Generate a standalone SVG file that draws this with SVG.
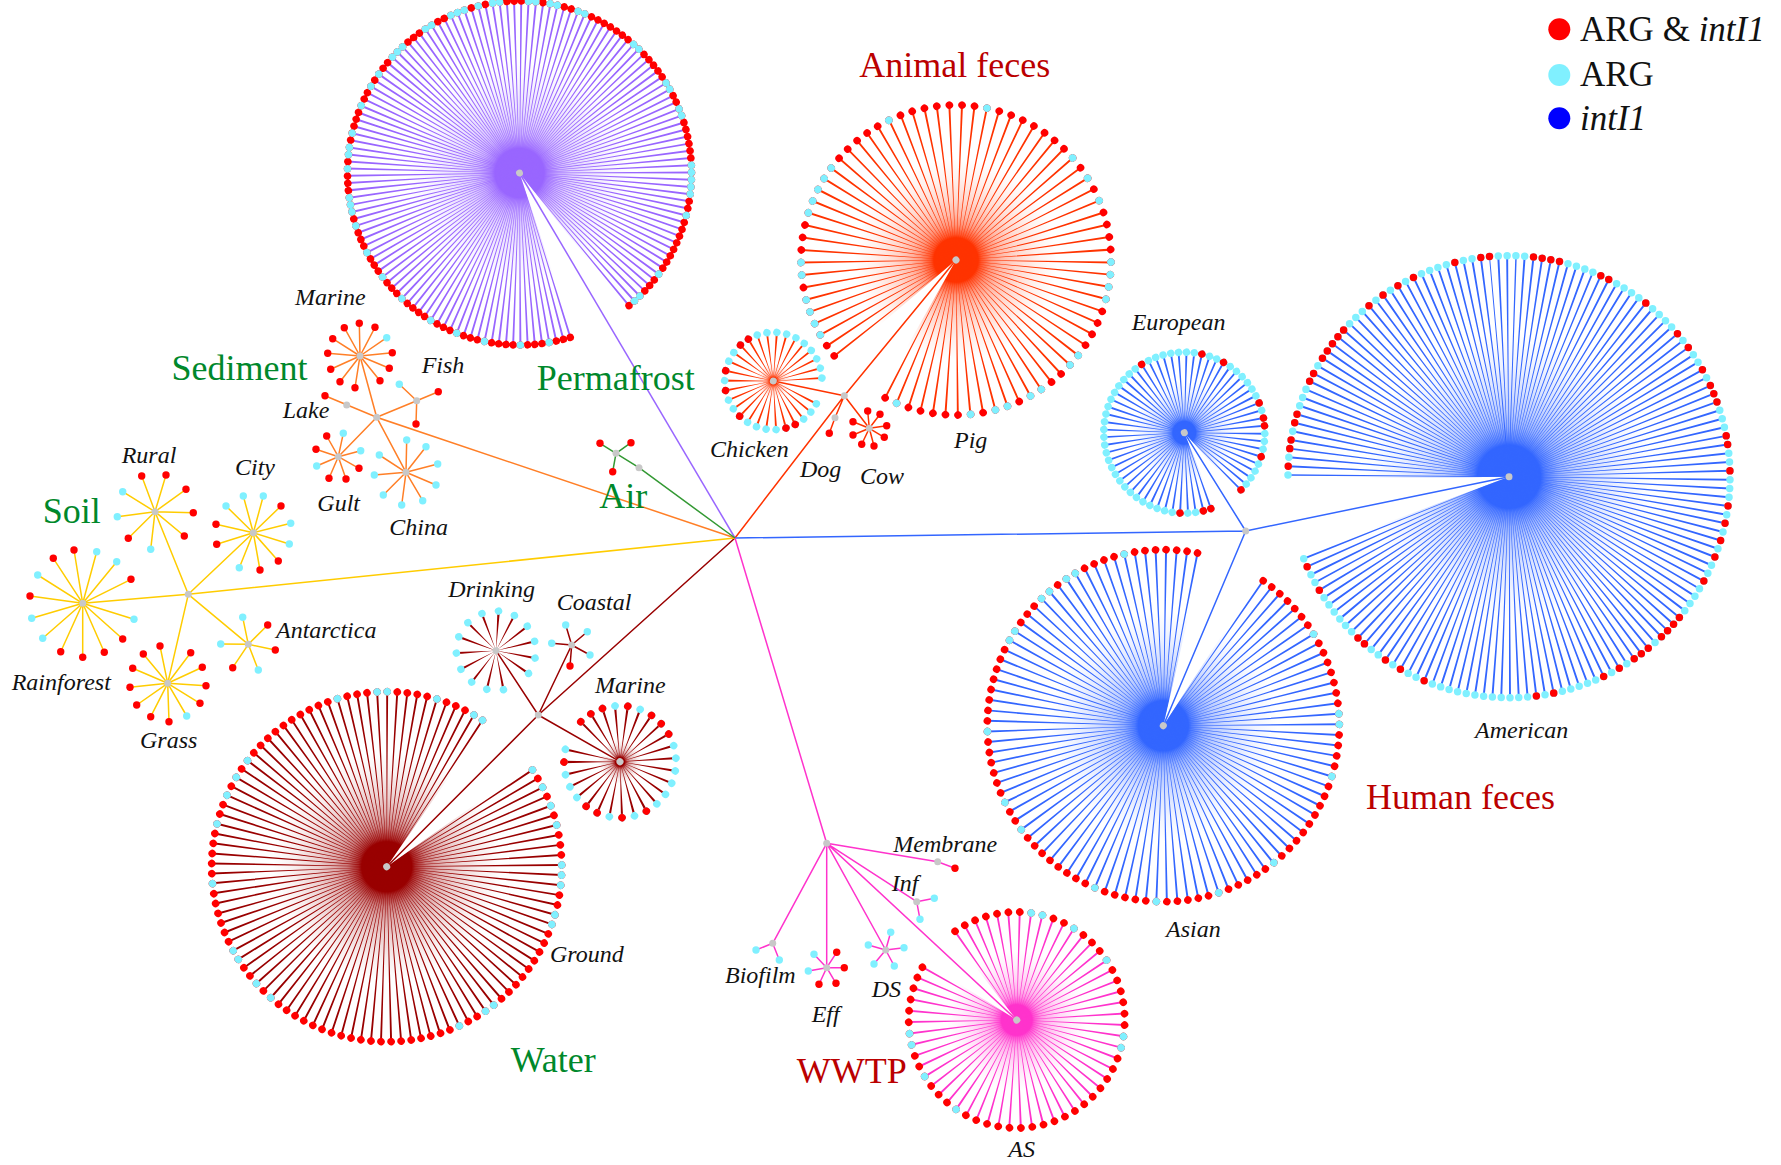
<svg xmlns="http://www.w3.org/2000/svg" xmlns:xlink="http://www.w3.org/1999/xlink" width="1781" height="1165" viewBox="0 0 1781 1165">
<style>
.lbl{font-family:"Liberation Serif","Times New Roman",serif;font-style:italic;font-size:24px;fill:#111}
.grp{font-family:"Liberation Serif","Times New Roman",serif;font-size:36px}
.leg{font-family:"Liberation Serif","Times New Roman",serif;font-size:35px;fill:#111}
.gt{fill:#00882B}.rt{fill:#BB0000}
.sp{fill:none;stroke-linecap:butt}
.dt{fill:none;stroke-width:7.5;stroke-linecap:round}
.dR{stroke:#FF0000}.dC{stroke:#80F0FF}
.R{fill:#FF0000}.C{fill:#80F0FF}
.hub{fill:#C8C8C8}
.s{fill:none;stroke-width:1.5}
</style>
<defs>
<radialGradient id="gP" gradientUnits="userSpaceOnUse" cx="0" cy="0" r="1"><stop offset="0" stop-color="#9966FF"/><stop offset="0.22" stop-color="#9966FF"/><stop offset="0.25" stop-color="#9966FF" stop-opacity="0.84"/><stop offset="0.35" stop-color="#9966FF" stop-opacity="0.52"/><stop offset="0.45" stop-color="#9966FF" stop-opacity="0.34"/><stop offset="0.6" stop-color="#9966FF" stop-opacity="0.19"/><stop offset="0.8" stop-color="#9966FF" stop-opacity="0.07"/><stop offset="1" stop-color="#9966FF" stop-opacity="0"/></radialGradient>
<radialGradient id="gA" gradientUnits="userSpaceOnUse" cx="0" cy="0" r="1"><stop offset="0" stop-color="#FF3300"/><stop offset="0.22" stop-color="#FF3300"/><stop offset="0.25" stop-color="#FF3300" stop-opacity="0.84"/><stop offset="0.35" stop-color="#FF3300" stop-opacity="0.52"/><stop offset="0.45" stop-color="#FF3300" stop-opacity="0.34"/><stop offset="0.6" stop-color="#FF3300" stop-opacity="0.19"/><stop offset="0.8" stop-color="#FF3300" stop-opacity="0.07"/><stop offset="1" stop-color="#FF3300" stop-opacity="0"/></radialGradient>
<radialGradient id="gB" gradientUnits="userSpaceOnUse" cx="0" cy="0" r="1"><stop offset="0" stop-color="#3366FF"/><stop offset="0.22" stop-color="#3366FF"/><stop offset="0.25" stop-color="#3366FF" stop-opacity="0.84"/><stop offset="0.35" stop-color="#3366FF" stop-opacity="0.52"/><stop offset="0.45" stop-color="#3366FF" stop-opacity="0.34"/><stop offset="0.6" stop-color="#3366FF" stop-opacity="0.19"/><stop offset="0.8" stop-color="#3366FF" stop-opacity="0.07"/><stop offset="1" stop-color="#3366FF" stop-opacity="0"/></radialGradient>
<radialGradient id="gW" gradientUnits="userSpaceOnUse" cx="0" cy="0" r="1"><stop offset="0" stop-color="#990000"/><stop offset="0.22" stop-color="#990000"/><stop offset="0.25" stop-color="#990000" stop-opacity="0.84"/><stop offset="0.35" stop-color="#990000" stop-opacity="0.52"/><stop offset="0.45" stop-color="#990000" stop-opacity="0.34"/><stop offset="0.6" stop-color="#990000" stop-opacity="0.19"/><stop offset="0.8" stop-color="#990000" stop-opacity="0.07"/><stop offset="1" stop-color="#990000" stop-opacity="0"/></radialGradient>
<radialGradient id="gK" gradientUnits="userSpaceOnUse" cx="0" cy="0" r="1"><stop offset="0" stop-color="#FF33CC"/><stop offset="0.22" stop-color="#FF33CC"/><stop offset="0.25" stop-color="#FF33CC" stop-opacity="0.84"/><stop offset="0.35" stop-color="#FF33CC" stop-opacity="0.52"/><stop offset="0.45" stop-color="#FF33CC" stop-opacity="0.34"/><stop offset="0.6" stop-color="#FF33CC" stop-opacity="0.19"/><stop offset="0.8" stop-color="#FF33CC" stop-opacity="0.07"/><stop offset="1" stop-color="#FF33CC" stop-opacity="0"/></radialGradient>
<path id="blob" d="M0.5 0A0.5 0.5 0 1 1 0.469846 -0.171010" fill="none" stroke-width="1"/>
</defs>
<rect width="1781" height="1165" fill="#FFFFFF"/>

<g id="connectors" fill="none" stroke-width="1.5">
<path stroke="#9966FF" d="M735 538L519.5 173"/>
<path stroke="#FF3300" d="M735 538L844.3 395.7L956 260M844.3 395.7L773.3 381M844.3 395.7L835 417.7L829.3 433.3M844.3 395.7L869.3 428.3"/>
<path stroke="#3366FF" d="M735 538L1245.7 531L1509 476.7M1245.7 531L1184.3 432.7M1245.7 531L1163.3 725.7"/>
<path stroke="#990000" d="M735 538L538.3 715L386.7 866.7M538.3 715L620 761.7M538.3 715L496 650.7M538.3 715L571.7 645"/>
<path stroke="#FF33CC" d="M735 538L826.7 843.3L1016.7 1020M826.7 843.3L937.7 861.7L955 868.3M826.7 843.3L916.7 901.7M826.7 843.3L772.7 943.3M826.7 843.3L826.7 967.7M826.7 843.3L885.7 950"/>
<path stroke="#FFCC00" d="M735 538L188.3 594.3L82.7 603.3M188.3 594.3L155 511.7M188.3 594.3L253.3 532.7M188.3 594.3L167.7 683.3M188.3 594.3L248.3 644.3"/>
<path stroke="#FF7F27" d="M735 538L376.7 417.3L360 356M376.7 417.3L416.7 400.7M376.7 417.3L325 395.7M376.7 417.3L338.3 456.7M376.7 417.3L406 472.3"/>
<path stroke="#339933" d="M735 538L639 467.7L616 453.3"/>
</g>

<g id="permafrost" transform="translate(519.5 173) rotate(71.65)">
<use href="#blob" transform="scale(112)" stroke="url(#gP)"/>
<path class="sp" stroke="#9966FF" stroke-width="171" pathLength="141" stroke-dasharray="0.276 0.724" stroke-dashoffset="0.638" d="M86.5 0A86.5 86.5 0 1 1 81.283 -29.585"/>
<path class="dt dR" pathLength="141" stroke-dasharray="0 1" stroke-dashoffset="0.5" d="M172 0A172 172 0 1 1 161.627 -58.827"/>
<path class="dt dC" pathLength="141" stroke-dasharray="0 4 0 5 0 4 0 4 0 5 0 4 0 4 0 4 0 2 0 1 0 1 0 4 0 2 0 1 0 2 0 4 0 3 0 2 0 3 0 1 0 1 0 4 0 1 0 3 0 1 0 1 0 2 0 2 0 1 0 4 0 1 0 2 0 1 0 3 0 1 0 8 0 1 0 6 0 1 0 3 0 1 0 7 0 1 0 1 0 1 0 1 0 3 0 9 0 4 0 1 0 999" stroke-dashoffset="-3.5" d="M172 0A172 172 0 1 1 161.627 -58.827"/>
<circle class="hub" r="3.5"/>
</g>

<g id="animal-pig" transform="translate(956 260) rotate(139.5)">
<use href="#blob" transform="scale(101)" stroke="url(#gA)"/>
<path class="sp" stroke="#FF3300" stroke-width="154" pathLength="73" stroke-dasharray="0.159 0.841" stroke-dashoffset="0.5795" d="M78 0A78 78 0 1 1 73.296 -26.678"/>
<path class="dt dR" pathLength="73" stroke-dasharray="0 1" stroke-dashoffset="0.5" d="M155 0A155 155 0 1 1 145.652 -53.013"/>
<path class="dt dC" pathLength="73" stroke-dasharray="0 1 0 1 0 1 0 2 0 1 0 4 0 1 0 1 0 1 0 1 0 6 0 8 0 8 0 2 0 2 0 5 0 1 0 1 0 1 0 5 0 1 0 3 0 1 0 2 0 1 0 2 0 6 0 999" stroke-dashoffset="-2.5" d="M155 0A155 155 0 1 1 145.652 -53.013"/>
<circle class="hub" r="3.5"/>
</g>

<g id="animal-chicken" transform="translate(773.3 381) rotate(22.2)">
<use href="#blob" transform="scale(18)" stroke="url(#gA)"/>
<path class="sp" stroke="#FF3300" stroke-width="47.7" pathLength="29" stroke-dasharray="0.21 0.79" stroke-dashoffset="0.605" d="M24.85 0A24.85 24.85 0 1 1 23.351 -8.499"/>
<path class="dt dC" pathLength="29" stroke-dasharray="0 1" stroke-dashoffset="0.5" d="M48.7 0A48.7 48.7 0 1 1 45.763 -16.656"/>
<path class="dt dR" pathLength="29" stroke-dasharray="0 1 0 5 0 3 0 2 0 3 0 1 0 999" stroke-dashoffset="-3.5" d="M48.7 0A48.7 48.7 0 1 1 45.763 -16.656"/>
<circle class="hub" r="3.5"/>
</g>

<g id="animal-dog">
<circle class="hub" cx="835" cy="417.7" r="3.5"/>
<circle class="R" cx="829.3" cy="433.3" r="3.7"/>
</g>

<g id="animal-cow">
<path class="s" stroke="#FF3300" d="M869.3 428.3L867.7 411M869.3 428.3L880 414.3M869.3 428.3L886.7 425.7M869.3 428.3L884.3 437.3M869.3 428.3L874 446M869.3 428.3L861.7 444.3M869.3 428.3L853 435M869.3 428.3L853 421.7"/>
<circle class="R" cx="867.7" cy="411" r="3.7"/><circle class="R" cx="880" cy="414.3" r="3.7"/><circle class="R" cx="886.7" cy="425.7" r="3.7"/><circle class="R" cx="884.3" cy="437.3" r="3.7"/><circle class="R" cx="874" cy="446" r="3.7"/><circle class="R" cx="861.7" cy="444.3" r="3.7"/><circle class="R" cx="853" cy="435" r="3.7"/><circle class="R" cx="853" cy="421.7" r="3.7"/>
<circle class="hub" cx="869.3" cy="428.3" r="3.5"/>
</g>
<circle id="animal-hub" class="hub" cx="844.3" cy="395.7" r="3.5"/>

<g id="human-european" transform="translate(1184.3 432.7) rotate(68)">
<use href="#blob" transform="scale(52)" stroke="url(#gB)"/>
<path class="sp" stroke="#3366FF" stroke-width="79.5" pathLength="61" stroke-dasharray="0.255 0.745" stroke-dashoffset="0.6275" d="M40.75 0A40.75 40.75 0 1 1 38.292 -13.937"/>
<path class="dt dC" pathLength="61" stroke-dasharray="0 1" stroke-dashoffset="0.5" d="M80.5 0A80.5 80.5 0 1 1 75.645 -27.533"/>
<path class="dt dR" pathLength="61" stroke-dasharray="0 1 0 3 0 26 0 8 0 3 0 7 0 2 0 1 0 4 0 5 0 999" stroke-dashoffset="-0.5" d="M80.5 0A80.5 80.5 0 1 1 75.645 -27.533"/>
<circle class="hub" r="3.5"/>
</g>

<g id="human-american" transform="translate(1509 476.7) rotate(179.35)">
<use href="#blob" transform="scale(144)" stroke="url(#gB)"/>
<path class="sp" stroke="#3366FF" stroke-width="220" pathLength="149" stroke-dasharray="0.227 0.773" stroke-dashoffset="0.6135" d="M111 0A111 111 0 1 1 104.306 -37.964"/>
<path class="dt dC" pathLength="149" stroke-dasharray="0 1" stroke-dashoffset="0.5" d="M221 0A221 221 0 1 1 207.671 -75.586"/>
<path class="dt dR" pathLength="149" stroke-dasharray="0 2 0 1 0 2 0 1 0 4 0 1 0 2 0 1 0 1 0 1 0 1 0 4 0 2 0 2 0 2 0 5 0 3 0 1 0 5 0 1 0 1 0 1 0 5 0 1 0 5 0 5 0 2 0 3 0 2 0 1 0 1 0 4 0 1 0 3 0 4 0 2 0 2 0 2 0 3 0 5 0 1 0 1 0 1 0 2 0 1 0 1 0 2 0 2 0 6 0 2 0 13 0 3 0 2 0 3 0 1 0 7 0 3 0 999" stroke-dashoffset="-1.5" d="M221 0A221 221 0 1 1 207.671 -75.586"/>
<circle class="hub" r="3.5"/>
</g>

<g id="human-asian" transform="translate(1163.3 725.7) rotate(302.9)">
<use href="#blob" transform="scale(114)" stroke="url(#gB)"/>
<path class="sp" stroke="#3366FF" stroke-width="175" pathLength="99" stroke-dasharray="0.19 0.81" stroke-dashoffset="0.595" d="M88.5 0A88.5 88.5 0 1 1 83.163 -30.269"/>
<path class="dt dR" pathLength="99" stroke-dasharray="0 1" stroke-dashoffset="0.5" d="M176 0A176 176 0 1 1 165.385 -60.196"/>
<path class="dt dC" pathLength="99" stroke-dasharray="0 8 0 1 0 5 0 10 0 6 0 6 0 6 0 9 0 3 0 7 0 9 0 1 0 4 0 1 0 2 0 1 0 5 0 999" stroke-dashoffset="-7.5" d="M176 0A176 176 0 1 1 165.385 -60.196"/>
<circle class="hub" r="3.5"/>
</g>
<circle id="human-hub" class="hub" cx="1245.7" cy="531" r="3.5"/>

<g id="water-ground" transform="translate(386.7 866.7) rotate(-35.2)">
<use href="#blob" transform="scale(114)" stroke="url(#gW)"/>
<path class="sp" stroke="#990000" stroke-width="174" pathLength="103" stroke-dasharray="0.198 0.802" stroke-dashoffset="0.599" d="M88 0A88 88 0 1 1 82.693 -30.098"/>
<path class="dt dR" pathLength="103" stroke-dasharray="0 1" stroke-dashoffset="0.5" d="M175 0A175 175 0 1 1 164.446 -59.854"/>
<path class="dt dC" pathLength="103" stroke-dasharray="0 2 0 2 0 2 0 4 0 1 0 1 0 3 0 1 0 10 0 1 0 3 0 20 0 2 0 3 0 1 0 7 0 6 0 3 0 2 0 2 0 11 0 4 0 1 0 5 0 4 0 1 0 999" stroke-dashoffset="-0.5" d="M175 0A175 175 0 1 1 164.446 -59.854"/>
<circle class="hub" r="3.5"/>
</g>

<g id="water-marine" transform="translate(620 761.7) rotate(219.15)">
<use href="#blob" transform="scale(22)" stroke="url(#gW)"/>
<path class="sp" stroke="#990000" stroke-width="55" pathLength="26" stroke-dasharray="0.18 0.82" stroke-dashoffset="0.59" d="M28.5 0A28.5 28.5 0 1 1 26.781 -9.748"/>
<path class="dt dC" pathLength="26" stroke-dasharray="0 1" stroke-dashoffset="0.5" d="M56 0A56 56 0 1 1 52.623 -19.153"/>
<path class="dt dR" pathLength="26" stroke-dasharray="0 1 0 1 0 2 0 2 0 1 0 1 0 7 0 2 0 2 0 1 0 4 0 999" stroke-dashoffset="-0.5" d="M56 0A56 56 0 1 1 52.623 -19.153"/>
<circle class="hub" r="3.5"/>
</g>

<g id="water-drinking" transform="translate(496 650.7) rotate(67.05)">
<path class="sp" stroke="#990000" stroke-width="38.7" pathLength="14" stroke-dasharray="0.14 0.86" stroke-dashoffset="0.57" d="M20.35 0A20.35 20.35 0 1 1 19.123 -6.960"/>
<path class="dt dC" pathLength="14" stroke-dasharray="0 1" stroke-dashoffset="0.5" d="M39.7 0A39.7 39.7 0 1 1 37.306 -13.578"/>
<circle class="hub" r="3.5"/>
</g>

<g id="water-coastal">
<path class="s" stroke="#990000" d="M571.7 645L565.7 625M571.7 645L587.3 631.7M571.7 645L551.7 643.3M571.7 645L590 655M571.7 645L570 666"/>
<circle class="C" cx="565.7" cy="625" r="3.7"/><circle class="C" cx="587.3" cy="631.7" r="3.7"/><circle class="C" cx="551.7" cy="643.3" r="3.7"/><circle class="C" cx="590" cy="655" r="3.7"/><circle class="R" cx="570" cy="666" r="3.7"/>
<circle class="hub" cx="571.7" cy="645" r="3.5"/>
</g>
<circle id="water-hub" class="hub" cx="538.3" cy="715" r="3.5"/>

<g id="wwtp-as" transform="translate(1016.7 1020) rotate(232.2)">
<use href="#blob" transform="scale(70)" stroke="url(#gK)"/>
<path class="sp" stroke="#FF33CC" stroke-width="107" pathLength="56" stroke-dasharray="0.175 0.825" stroke-dashoffset="0.5875" d="M54.5 0A54.5 54.5 0 1 1 51.213 -18.640"/>
<path class="dt dR" pathLength="56" stroke-dasharray="0 1" stroke-dashoffset="0.5" d="M108 0A108 108 0 1 1 101.487 -36.938"/>
<path class="dt dC" pathLength="56" stroke-dasharray="0 1 0 3 0 4 0 7 0 1 0 18 0 4 0 3 0 1 0 999" stroke-dashoffset="-7.5" d="M108 0A108 108 0 1 1 101.487 -36.938"/>
<circle class="hub" r="3.5"/>
</g>

<g id="wwtp-membrane">
<circle class="hub" cx="937.7" cy="861.7" r="3.5"/>
<circle class="R" cx="955" cy="868.3" r="3.7"/>
</g>
<g id="wwtp-inf">
<path class="s" stroke="#FF33CC" d="M916.7 901.7L934.3 898.3M916.7 901.7L920 919.3"/>
<circle class="C" cx="934.3" cy="898.3" r="3.7"/><circle class="C" cx="920" cy="919.3" r="3.7"/>
<circle class="hub" cx="916.7" cy="901.7" r="3.5"/>
</g>
<g id="wwtp-biofilm">
<path class="s" stroke="#FF33CC" d="M772.7 943.3L756 950M772.7 943.3L779.3 960"/>
<circle class="C" cx="756" cy="950" r="3.7"/><circle class="C" cx="779.3" cy="960" r="3.7"/>
<circle class="hub" cx="772.7" cy="943.3" r="3.5"/>
</g>
<g id="wwtp-eff">
<path class="s" stroke="#FF33CC" d="M826.7 967.7L814 954.3M826.7 967.7L836.7 952.3M826.7 967.7L844.3 967.7M826.7 967.7L836 983.3M826.7 967.7L819 984.3M826.7 967.7L808.3 971"/>
<circle class="C" cx="814" cy="954.3" r="3.7"/><circle class="R" cx="836.7" cy="952.3" r="3.7"/><circle class="R" cx="844.3" cy="967.7" r="3.7"/><circle class="R" cx="836" cy="983.3" r="3.7"/><circle class="R" cx="819" cy="984.3" r="3.7"/><circle class="C" cx="808.3" cy="971" r="3.7"/>
<circle class="hub" cx="826.7" cy="967.7" r="3.5"/>
</g>
<g id="wwtp-ds">
<path class="s" stroke="#FF33CC" d="M885.7 950L890.7 932.3M885.7 950L904 947.7M885.7 950L894.3 966M885.7 950L874 964M885.7 950L868.3 945"/>
<circle class="C" cx="890.7" cy="932.3" r="3.7"/><circle class="C" cx="904" cy="947.7" r="3.7"/><circle class="C" cx="894.3" cy="966" r="3.7"/><circle class="C" cx="874" cy="964" r="3.7"/><circle class="C" cx="868.3" cy="945" r="3.7"/>
<circle class="hub" cx="885.7" cy="950" r="3.5"/>
</g>
<circle id="wwtp-hub" class="hub" cx="826.7" cy="843.3" r="3.5"/>

<g id="soil-rainforest">
<path class="s" stroke="#FFCC00" d="M82.7 603.3L30 596M82.7 603.3L60.7 651.7M82.7 603.3L82.7 657.3M82.7 603.3L104.3 652.3M82.7 603.3L122.7 639M82.7 603.3L131 579.3M82.7 603.3L74 550M82.7 603.3L53.3 558.3M82.7 603.3L31.7 618.3M82.7 603.3L42.7 638.3M82.7 603.3L134 619.3M82.7 603.3L116.7 561.7M82.7 603.3L96.7 551.7M82.7 603.3L37.7 575"/>
<circle class="R" cx="30" cy="596" r="3.7"/><circle class="R" cx="60.7" cy="651.7" r="3.7"/><circle class="R" cx="82.7" cy="657.3" r="3.7"/><circle class="R" cx="104.3" cy="652.3" r="3.7"/><circle class="R" cx="122.7" cy="639" r="3.7"/><circle class="R" cx="131" cy="579.3" r="3.7"/><circle class="R" cx="74" cy="550" r="3.7"/><circle class="R" cx="53.3" cy="558.3" r="3.7"/>
<circle class="C" cx="31.7" cy="618.3" r="3.7"/><circle class="C" cx="42.7" cy="638.3" r="3.7"/><circle class="C" cx="134" cy="619.3" r="3.7"/><circle class="C" cx="116.7" cy="561.7" r="3.7"/><circle class="C" cx="96.7" cy="551.7" r="3.7"/><circle class="C" cx="37.7" cy="575" r="3.7"/>
<circle class="hub" cx="82.7" cy="603.3" r="3.5"/>
</g>
<g id="soil-rural">
<path class="s" stroke="#FFCC00" d="M155 511.7L141.7 476M155 511.7L166 475M155 511.7L186 489.3M155 511.7L193.3 512.7M155 511.7L184.3 536M155 511.7L128.3 538.3M155 511.7L150.7 549.3M155 511.7L117.3 516.7M155 511.7L122.7 491.7"/>
<circle class="R" cx="141.7" cy="476" r="3.7"/><circle class="R" cx="166" cy="475" r="3.7"/><circle class="R" cx="186" cy="489.3" r="3.7"/><circle class="R" cx="193.3" cy="512.7" r="3.7"/><circle class="R" cx="184.3" cy="536" r="3.7"/><circle class="R" cx="128.3" cy="538.3" r="3.7"/>
<circle class="C" cx="150.7" cy="549.3" r="3.7"/><circle class="C" cx="117.3" cy="516.7" r="3.7"/><circle class="C" cx="122.7" cy="491.7" r="3.7"/>
<circle class="hub" cx="155" cy="511.7" r="3.5"/>
</g>
<g id="soil-city">
<path class="s" stroke="#FFCC00" d="M253.3 532.7L243.3 496M253.3 532.7L263.3 496M253.3 532.7L281 506M253.3 532.7L290.7 523.3M253.3 532.7L289.3 544M253.3 532.7L278.3 561M253.3 532.7L260 570M253.3 532.7L239.3 567.7M253.3 532.7L216.7 544.3M253.3 532.7L216 524.3M253.3 532.7L226 506"/>
<circle class="C" cx="243.3" cy="496" r="3.7"/><circle class="C" cx="263.3" cy="496" r="3.7"/><circle class="R" cx="281" cy="506" r="3.7"/><circle class="C" cx="290.7" cy="523.3" r="3.7"/><circle class="C" cx="289.3" cy="544" r="3.7"/><circle class="R" cx="278.3" cy="561" r="3.7"/><circle class="R" cx="260" cy="570" r="3.7"/><circle class="C" cx="239.3" cy="567.7" r="3.7"/><circle class="R" cx="216.7" cy="544.3" r="3.7"/><circle class="R" cx="216" cy="524.3" r="3.7"/><circle class="C" cx="226" cy="506" r="3.7"/>
<circle class="hub" cx="253.3" cy="532.7" r="3.5"/>
</g>
<g id="soil-grass">
<path class="s" stroke="#FFCC00" d="M167.7 683.3L160 646M167.7 683.3L190.7 652.7M167.7 683.3L202.3 667.3M167.7 683.3L206 685.7M167.7 683.3L200 703.3M167.7 683.3L186.7 716M167.7 683.3L169 721.7M167.7 683.3L150.7 716.7M167.7 683.3L136.7 705M167.7 683.3L130 687.3M167.7 683.3L132.7 668.3M167.7 683.3L143.3 654"/>
<circle class="R" cx="160" cy="646" r="3.7"/><circle class="R" cx="190.7" cy="652.7" r="3.7"/><circle class="R" cx="202.3" cy="667.3" r="3.7"/><circle class="R" cx="206" cy="685.7" r="3.7"/><circle class="R" cx="200" cy="703.3" r="3.7"/><circle class="C" cx="186.7" cy="716" r="3.7"/><circle class="R" cx="169" cy="721.7" r="3.7"/><circle class="R" cx="150.7" cy="716.7" r="3.7"/><circle class="R" cx="136.7" cy="705" r="3.7"/><circle class="R" cx="130" cy="687.3" r="3.7"/><circle class="R" cx="132.7" cy="668.3" r="3.7"/><circle class="R" cx="143.3" cy="654" r="3.7"/>
<circle class="hub" cx="167.7" cy="683.3" r="3.5"/>
</g>
<g id="soil-antarctica">
<path class="s" stroke="#FFCC00" d="M248.3 644.3L242.7 617.3M248.3 644.3L267.7 625M248.3 644.3L275.3 650M248.3 644.3L258.3 670M248.3 644.3L232.7 667.7M248.3 644.3L220.7 644"/>
<circle class="C" cx="242.7" cy="617.3" r="3.7"/><circle class="R" cx="267.7" cy="625" r="3.7"/><circle class="R" cx="275.3" cy="650" r="3.7"/><circle class="C" cx="258.3" cy="670" r="3.7"/><circle class="R" cx="232.7" cy="667.7" r="3.7"/><circle class="C" cx="220.7" cy="644" r="3.7"/>
<circle class="hub" cx="248.3" cy="644.3" r="3.5"/>
</g>
<circle id="soil-hub" class="hub" cx="188.3" cy="594.3" r="3.5"/>

<g id="sediment-marine">
<path class="s" stroke="#FF7F27" d="M360 356L344.3 327.7M360 356L359.3 323.3M360 356L375 327.3M360 356L386.7 337.7M360 356L392.3 352.7M360 356L389.3 368.3M360 356L380 380.7M360 356L355 387.7M360 356L340 381.7M360 356L330.7 369.3M360 356L327.7 353.3M360 356L332.7 338.7"/>
<circle class="R" cx="344.3" cy="327.7" r="3.7"/><circle class="R" cx="359.3" cy="323.3" r="3.7"/><circle class="R" cx="375" cy="327.3" r="3.7"/><circle class="C" cx="386.7" cy="337.7" r="3.7"/><circle class="R" cx="392.3" cy="352.7" r="3.7"/><circle class="R" cx="389.3" cy="368.3" r="3.7"/><circle class="R" cx="380" cy="380.7" r="3.7"/><circle class="R" cx="355" cy="387.7" r="3.7"/><circle class="R" cx="340" cy="381.7" r="3.7"/><circle class="R" cx="330.7" cy="369.3" r="3.7"/><circle class="R" cx="327.7" cy="353.3" r="3.7"/><circle class="R" cx="332.7" cy="338.7" r="3.7"/>
<circle class="hub" cx="360" cy="356" r="3.5"/>
</g>
<g id="sediment-fish">
<path class="s" stroke="#FF7F27" d="M416.7 400.7L399.3 384.3M416.7 400.7L438.3 391.7M416.7 400.7L416 424"/>
<circle class="C" cx="399.3" cy="384.3" r="3.7"/><circle class="R" cx="438.3" cy="391.7" r="3.7"/><circle class="R" cx="416" cy="424" r="3.7"/>
<circle class="hub" cx="416.7" cy="400.7" r="3.5"/>
</g>
<g id="sediment-lake">
<circle class="hub" cx="346.7" cy="405" r="3.5"/>
<circle class="R" cx="325" cy="395.7" r="3.7"/>
</g>
<g id="sediment-gult">
<path class="s" stroke="#FF7F27" d="M338.3 456.7L326.7 436M338.3 456.7L343.3 433.3M338.3 456.7L360.7 450.7M338.3 456.7L359 468.3M338.3 456.7L346 479M338.3 456.7L329 478.3M338.3 456.7L316.7 466M338.3 456.7L316 449.3"/>
<circle class="R" cx="326.7" cy="436" r="3.7"/><circle class="C" cx="343.3" cy="433.3" r="3.7"/><circle class="C" cx="360.7" cy="450.7" r="3.7"/><circle class="R" cx="359" cy="468.3" r="3.7"/><circle class="R" cx="346" cy="479" r="3.7"/><circle class="R" cx="329" cy="478.3" r="3.7"/><circle class="C" cx="316.7" cy="466" r="3.7"/><circle class="R" cx="316" cy="449.3" r="3.7"/>
<circle class="hub" cx="338.3" cy="456.7" r="3.5"/>
</g>
<g id="sediment-china">
<path class="s" stroke="#FF7F27" d="M406 472.3L406.7 440M406 472.3L426 446.7M406 472.3L437.7 464M406 472.3L436 485M406 472.3L422.7 500.7M406 472.3L401.7 505M406 472.3L383.3 495M406 472.3L374.3 475M406 472.3L379.3 455"/>
<circle class="C" cx="406.7" cy="440" r="3.7"/><circle class="C" cx="426" cy="446.7" r="3.7"/><circle class="C" cx="437.7" cy="464" r="3.7"/><circle class="C" cx="436" cy="485" r="3.7"/><circle class="C" cx="422.7" cy="500.7" r="3.7"/><circle class="C" cx="401.7" cy="505" r="3.7"/><circle class="C" cx="383.3" cy="495" r="3.7"/><circle class="C" cx="374.3" cy="475" r="3.7"/><circle class="C" cx="379.3" cy="455" r="3.7"/>
<circle class="hub" cx="406" cy="472.3" r="3.5"/>
</g>
<circle id="sediment-hub" class="hub" cx="376.7" cy="417.3" r="3.5"/>

<g id="air">
<path class="s" stroke="#339933" d="M616 453.3L600 443.3M616 453.3L631 442.7M616 453.3L612.7 471.7"/>
<circle class="R" cx="600" cy="443.3" r="3.7"/><circle class="R" cx="631" cy="442.7" r="3.7"/><circle class="R" cx="612.7" cy="471.7" r="3.7"/>
<circle class="hub" cx="616" cy="453.3" r="3.5"/>
<circle class="hub" cx="639" cy="467.7" r="3.5"/>
</g>

<g id="group-labels">
<text class="grp gt" x="171.5" y="380">Sediment</text>
<text class="grp gt" x="536.7" y="390">Permafrost</text>
<text class="grp gt" x="42.7" y="523">Soil</text>
<text class="grp gt" x="599.3" y="508">Air</text>
<text class="grp gt" x="510.7" y="1072">Water</text>
<text class="grp rt" x="859.3" y="77">Animal feces</text>
<text class="grp rt" x="1366" y="809">Human feces</text>
<text class="grp rt" x="796.7" y="1083">WWTP</text>
</g>

<g id="labels">
<text class="lbl" x="295" y="305">Marine</text>
<text class="lbl" x="421.7" y="373">Fish</text>
<text class="lbl" x="282.7" y="418">Lake</text>
<text class="lbl" x="317.3" y="511">Gult</text>
<text class="lbl" x="389.3" y="535">China</text>
<text class="lbl" x="121.7" y="463">Rural</text>
<text class="lbl" x="235" y="475">City</text>
<text class="lbl" x="11.7" y="690">Rainforest</text>
<text class="lbl" x="140" y="748">Grass</text>
<text class="lbl" x="276" y="638">Antarctica</text>
<text class="lbl" x="448.3" y="597">Drinking</text>
<text class="lbl" x="556.7" y="610">Coastal</text>
<text class="lbl" x="595" y="693">Marine</text>
<text class="lbl" x="550" y="962">Ground</text>
<text class="lbl" x="710" y="457">Chicken</text>
<text class="lbl" x="800" y="477">Dog</text>
<text class="lbl" x="860" y="484">Cow</text>
<text class="lbl" x="954" y="448">Pig</text>
<text class="lbl" x="1131.7" y="330">European</text>
<text class="lbl" x="1475" y="738">American</text>
<text class="lbl" x="1166" y="937">Asian</text>
<text class="lbl" x="893.3" y="852">Membrane</text>
<text class="lbl" x="891.7" y="891">Inf</text>
<text class="lbl" x="725" y="983">Biofilm</text>
<text class="lbl" x="811.7" y="1022">Eff</text>
<text class="lbl" x="871.7" y="997">DS</text>
<text class="lbl" x="1008.3" y="1157">AS</text>
</g>

<g id="legend">
<circle cx="1559.3" cy="29.3" r="11" fill="#FF0000"/>
<circle cx="1559.3" cy="75" r="11" fill="#80F0FF"/>
<circle cx="1559.3" cy="118.3" r="11" fill="#0000FF"/>
<text class="leg" x="1580" y="41">ARG &amp; <tspan font-style="italic">intI1</tspan></text>
<text class="leg" x="1580" y="86">ARG</text>
<text class="leg" x="1580" y="130" font-style="italic">intI1</text>
</g>
</svg>
